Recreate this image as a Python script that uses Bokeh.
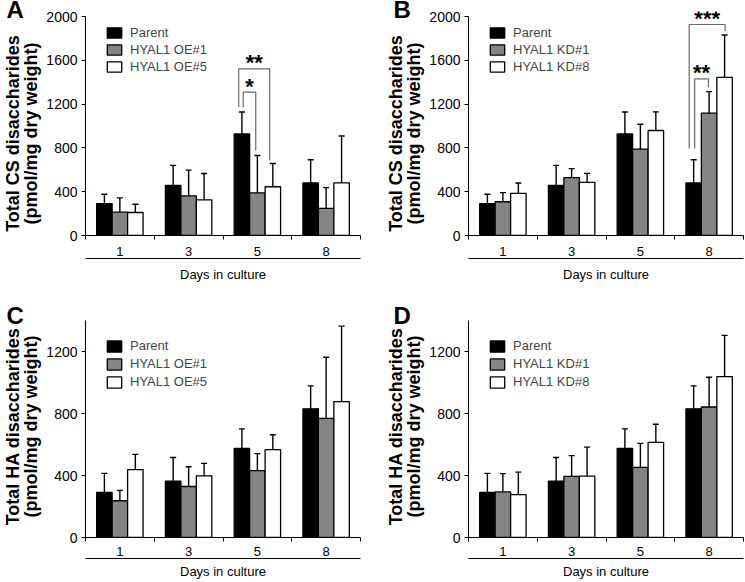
from bokeh.plotting import figure
from bokeh.models import (Range1d, FixedTicker, LinearAxis, Whisker, TeeHead,
                          ColumnDataSource, Legend, LegendItem, Title)
from bokeh.layouts import column, row
from bokeh.embed import file_html
from bokeh.resources import INLINE
from bokeh.core.properties import value

# ---------------- data ----------------
days = ["1", "3", "5", "8"]

# Total CS disaccharides (pmol/mg dry weight)
cs_parent = [292, 458, 928, 480]
cs_parent_err = [85, 182, 200, 212]
cs_oe1 = [213, 362, 390, 247]
cs_oe1_err = [131, 235, 340, 190]
cs_oe5 = [210, 326, 445, 481]
cs_oe5_err = [76, 240, 212, 428]
cs_kd1 = [308, 528, 788, 1117]
cs_kd1_err = [84, 83, 228, 197]
cs_kd8 = [385, 485, 959, 1444]
cs_kd8_err = [95, 82, 170, 387]

# Total HA disaccharides (pmol/mg dry weight)
ha_parent = [291, 364, 575, 830]
ha_parent_err = [123, 152, 126, 148]
ha_oe1 = [237, 329, 432, 768]
ha_oe1_err = [67, 127, 109, 395]
ha_oe5 = [438, 398, 567, 877]
ha_oe5_err = [98, 80, 96, 487]
ha_kd1 = [294, 394, 452, 842]
ha_kd1_err = [118, 134, 155, 192]
ha_kd8 = [277, 396, 614, 1038]
ha_kd8_err = [145, 187, 117, 266]

cs_ticks = [0, 400, 800, 1200, 1600, 2000]
ha_ticks = [0, 400, 800, 1200]

# significance brackets: (day, stars, left series, right series, top, left end, right end)
sig_A = [("5", "**", 0, 2, 1522, 1172, 685),
         ("5", "*", 0, 1, 1309, 1172, 776)]
sig_B = [("8", "***", 0, 2, 1927, 795, 1866),
         ("8", "**", 0, 1, 1431, 795, 1354)]
# small horizontal nudges of bracket ends relative to bar centres (group units)
sig_A_nudge = [(-0.046, -0.045), (0.019, -0.024)]
sig_B_nudge = [(-0.065, 0.008), (0.015, -0.01)]

FONT = "Liberation Sans"
BLACK = "#000000"
GRAY = "#858585"
WHITE = "#ffffff"
BAR_W = 0.225
NB = "\u00a0"


def panel(letter, ylabel, yaxis_max, yticks, series, labels, sig, nudges,
          w, h, left, right, top, bottom, pad_px, legend_top, legend_spacing,
          glyph_h, letter_off, letter_standoff, xlab_standoff, xtitle_standoff):
    fh = h - top - bottom
    ymax = yaxis_max * fh / (fh - pad_px)
    p = figure(width=w, height=h, x_range=Range1d(-0.5, 3.5),
               y_range=Range1d(0, ymax), output_backend="svg",
               toolbar_location=None, x_axis_type=None, y_axis_type=None,
               min_border_left=left, min_border_right=right,
               min_border_top=top, min_border_bottom=bottom)
    p.outline_line_color = None
    p.background_fill_color = None
    p.border_fill_color = "white"
    uy = ymax / fh         # data units per px (y)

    colors = [BLACK, GRAY, WHITE]
    items = []
    for i, ((vals, errs), col, lab) in enumerate(zip(series, colors, labels)):
        off = (i - 1) * BAR_W
        xs = [j + off for j in range(len(days))]
        src = ColumnDataSource(dict(
            x=xs, top=vals,
            upper=[v + e for v, e in zip(vals, errs)],
            lower=[v - e for v, e in zip(vals, errs)]))
        r = p.vbar(x="x", top="top", bottom=0, width=BAR_W, source=src,
                   fill_color=col, line_color=BLACK, line_width=1.3)
        items.append(LegendItem(label=lab, renderers=[r]))
        wk = Whisker(source=src, base="x", upper="upper", lower="lower",
                     line_color=BLACK, line_width=1.4,
                     upper_head=TeeHead(size=6, line_color=BLACK, line_width=1.4),
                     lower_head=TeeHead(size=6, line_color=BLACK, line_width=1.4))
        p.add_layout(wk)

    # significance brackets
    for (day, stars, si, sj, ytop, yl, yr), (nl, nr) in zip(sig, nudges):
        g = days.index(day)
        xl = g + (si - 1) * BAR_W + nl
        xr = g + (sj - 1) * BAR_W + nr
        p.line(x=[xl, xl, xr, xr], y=[yl, ytop, ytop, yr],
               line_color="#6a6a6a", line_width=1.2)
        p.text(x=[(xl + xr) / 2], y=[ytop + 6 * uy], text=[stars],
               text_font=value(FONT), text_font_style="bold",
               text_font_size="22px", text_align="center",
               text_baseline="middle", text_color=BLACK)

    # legend
    item_h = 15.5
    leg_top = legend_top - (item_h - glyph_h) / 2
    leg_h = 3 * item_h + 2 * legend_spacing
    legend = Legend(items=items, location=(20, round(fh - leg_top - leg_h)),
                    padding=0, margin=0, spacing=legend_spacing,
                    glyph_height=glyph_h, glyph_width=18, label_height=13,
                    label_standoff=7, border_line_color=None,
                    background_fill_alpha=0,
                    label_text_font=FONT, label_text_font_size="13px",
                    label_text_baseline="middle")
    p.add_layout(legend)

    # y axis
    yax = LinearAxis(ticker=FixedTicker(ticks=yticks), bounds=(0, yaxis_max),
                     major_tick_out=4, major_tick_in=0,
                     minor_tick_out=0, minor_tick_in=0,
                     major_label_standoff=4,
                     axis_line_color=BLACK, major_tick_line_color=BLACK,
                     major_label_text_font=FONT,
                     major_label_text_font_size="14px",
                     major_label_text_color=BLACK,
                     axis_label=ylabel, axis_label_standoff=2,
                     axis_label_text_font=FONT,
                     axis_label_text_font_size="18px",
                     axis_label_text_font_style="bold",
                     axis_label_text_line_height=0.9,
                     axis_label_text_color=BLACK)
    p.add_layout(yax, "left")

    # x axis: day labels at group centres, tick marks at group boundaries
    xax = LinearAxis(ticker=FixedTicker(ticks=[0, 1, 2, 3],
                                        minor_ticks=[-0.5, 0.5, 1.5, 2.5, 3.5]),
                     major_label_overrides={i: d for i, d in enumerate(days)},
                     major_tick_out=0, major_tick_in=0,
                     minor_tick_out=4, minor_tick_in=0,
                     major_label_standoff=xlab_standoff,
                     axis_line_color=BLACK, minor_tick_line_color=BLACK,
                     major_label_text_font=FONT,
                     major_label_text_font_size="13px",
                     major_label_text_color=BLACK)
    p.add_layout(xax, "below")
    xax2 = LinearAxis(ticker=FixedTicker(ticks=[]),
                      major_tick_out=0, major_tick_in=0,
                      minor_tick_out=0, minor_tick_in=0,
                      major_label_standoff=0,
                      axis_line_color=BLACK,
                      axis_label="Days in culture",
                      axis_label_standoff=xtitle_standoff,
                      axis_label_text_font=FONT,
                      axis_label_text_font_size="13px",
                      axis_label_text_font_style="normal",
                      axis_label_text_color=BLACK)
    p.add_layout(xax2, "below")

    # panel letter as a left-shifted title
    p.add_layout(Title(text=letter, align="left", offset=letter_off,
                       standoff=letter_standoff, text_font=FONT,
                       text_font_style="bold", text_font_size="24px",
                       text_line_height=1.0, vertical_align="top",
                       text_color=BLACK), "above")
    return p


oe_labels = ["Parent", "HYAL1 OE#1", "HYAL1 OE#5"]
kd_labels = ["Parent", "HYAL1 KD#1", "HYAL1 KD#8"]
cs_label = ("Total CS disaccharides" + NB * 4 + "\n"
            + "(pmol/mg dry weight)" + NB * 4)
ha_label = (NB + "Total HA disaccharides\n" + NB + "(pmol/mg dry weight)")

pA = panel("A", cs_label, 2000, cs_ticks,
           [(cs_parent, cs_parent_err), (cs_oe1, cs_oe1_err), (cs_oe5, cs_oe5_err)],
           oe_labels, sig_A, sig_A_nudge,
           383, 291, 81, 23, 11, 56, 5, 14, 2, 13, -79, -26, 7, 8)
pB = panel("B", cs_label, 2000, cs_ticks,
           [(cs_parent, cs_parent_err), (cs_kd1, cs_kd1_err), (cs_kd8, cs_kd8_err)],
           kd_labels, sig_B, sig_B_nudge,
           361, 291, 81, 1, 11, 56, 5, 14, 2, 13, -75, -26, 7, 8)
pC = panel("C", ha_label, 1400, ha_ticks,
           [(ha_parent, ha_parent_err), (ha_oe1, ha_oe1_err), (ha_oe5, ha_oe5_err)],
           oe_labels, [], [],
           383, 290, 81, 23, 29, 44, 0, 17, 3, 14, -79, -20, 5, 5)
pD = panel("D", ha_label, 1400, ha_ticks,
           [(ha_parent, ha_parent_err), (ha_kd1, ha_kd1_err), (ha_kd8, ha_kd8_err)],
           kd_labels, [], [],
           361, 290, 81, 1, 29, 44, 0, 17, 3, 14, -75, -20, 5, 5)

layout = column(row(pA, pB), row(pC, pD))
open("out.html", "w").write(file_html(layout, INLINE))
